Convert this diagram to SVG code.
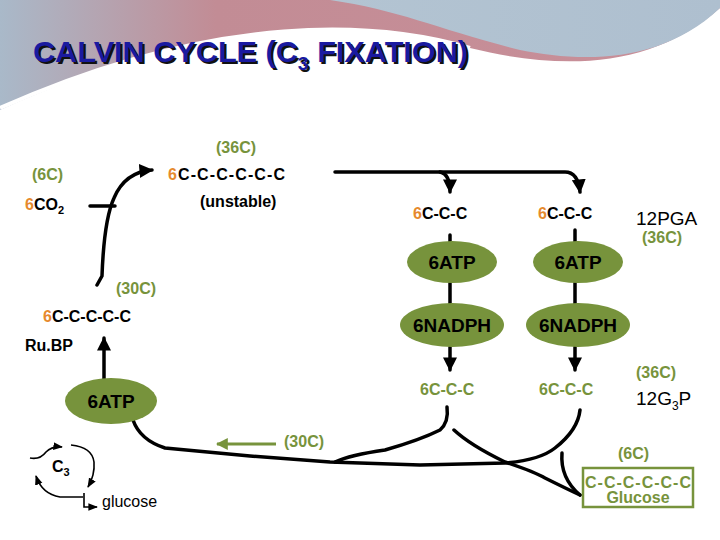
<svg xmlns="http://www.w3.org/2000/svg" width="720" height="540" viewBox="0 0 720 540">
<defs>
<linearGradient id="bg1" x1="0" y1="0" x2="1" y2="0"><stop offset="0" stop-color="#a9b9c9"/><stop offset="0.3" stop-color="#c28c95"/><stop offset="1" stop-color="#c98f99"/></linearGradient>
<linearGradient id="bg2" x1="0" y1="0" x2="1" y2="0"><stop offset="0" stop-color="#b3c4d2"/><stop offset="1" stop-color="#aebfcf"/></linearGradient>
<marker id="ah" viewBox="0 0 10 10" refX="9" refY="5" markerWidth="4" markerHeight="4" orient="auto"><path d="M0,0 L10,5 L0,10 z" fill="#000"/></marker>
<marker id="ahs" viewBox="0 0 10 10" refX="9" refY="5" markerWidth="6" markerHeight="6" orient="auto"><path d="M0,1 L10,5 L0,9 z" fill="#000"/></marker>
<marker id="ahg" viewBox="0 0 10 10" refX="9" refY="5" markerWidth="4" markerHeight="4" orient="auto"><path d="M0,0 L10,5 L0,10 z" fill="#77933C"/></marker>
<style>
text{font-family:"Liberation Sans",Arial,sans-serif;font-weight:bold}
.k{fill:#000;font-size:16px}
.g{fill:#77933C;font-size:16px}
.o{fill:#E68A2E}
.big{font-size:19px}
.nb{font-weight:normal}
.ov{fill:#77933C}
.ln{fill:none;stroke:#000;stroke-width:3.5;stroke-linecap:round;stroke-linejoin:round}
.th{fill:none;stroke:#000;stroke-width:1.6}
</style>
</defs>
<rect width="720" height="540" fill="#fff"/>
<path d="M0,0 H720 V8 C650,70 560,70 470,48 C380,20 220,10 0,110 Z" fill="url(#bg1)"/>
<path d="M330,0 H720 V8 C660,65 580,62 520,50 C440,30 400,10 330,0 Z" fill="url(#bg2)"/>
<path d="M0,108 C220,10 380,22 470,48" fill="none" stroke="#fff" stroke-width="4"/>
<g id="title">
<text x="33" y="62" font-size="30" fill="#111" transform="translate(2,2)" textLength="435" lengthAdjust="spacingAndGlyphs">CALVIN CYCLE (C<tspan font-size="19" dy="8">3</tspan><tspan dy="-8"> FIXATION)</tspan></text>
<text x="33" y="62" font-size="30" fill="#1a1aa0" textLength="435" lengthAdjust="spacingAndGlyphs">CALVIN CYCLE (C<tspan font-size="19" dy="8">3</tspan><tspan dy="-8"> FIXATION)</tspan></text>
</g>
<g id="connectors">
<path class="ln" d="M90,206 H115"/>
<path class="ln" d="M97,285 L102,276 Q104,220 114,198 Q125,172 152,170" marker-end="url(#ah)"/>
<path class="ln" d="M335,172 H565 Q578,172 580,192" marker-end="url(#ah)"/>
<path class="ln" d="M440,172 Q450,174 450,192" marker-end="url(#ah)"/>
<path class="ln" d="M450,235 V305 M450,347 V370" marker-end="url(#ah)"/>
<path class="ln" d="M575,230 V305 M575,347 V370" marker-end="url(#ah)"/>
<path class="ln" d="M104,380 V338" marker-end="url(#ah)"/>
<path class="ln" d="M104,380 V384"/>
<path class="ln" d="M133,420 Q140,440 165,448 L250,456 L330,462 L420,465 L505,463 Q540,460 555,448 Q578,430 580,410"/>
<path class="ln" d="M447,407 Q449,422 440,430 Q420,440 385,450 Q350,455 335,462"/>
<path class="ln" d="M454,430 Q470,445 505,462 Q535,472 545,478 Q565,488 580,495"/>
<path class="ln" d="M562,453 Q560,478 580,495"/>
<path d="M276,444 H217" stroke="#77933C" stroke-width="3" marker-end="url(#ahg)"/>
<path class="th" d="M30,458 Q40,460 46,452 Q52,446 62,447" marker-end="url(#ahs)"/>
<path class="th" d="M71,445 Q92,447 94,462 Q95,475 88,487" marker-end="url(#ahs)"/>
<path class="th" d="M83,497 L60,497 Q42,494 36,476" marker-end="url(#ahs)"/>
<path class="th" d="M84,493 V507 H97" marker-end="url(#ahs)"/>
</g>
<g id="n-36c"><text class="g" x="216" y="153">(36C)</text></g>
<g id="n-6c-top"><text class="k" x="168" y="180" textLength="117"><tspan class="o">6</tspan>C-C-C-C-C-C</text><text class="k" x="200" y="207">(unstable)</text></g>
<g id="n-co2"><text class="g" x="32" y="180">(6C)</text><text class="k" x="25" y="210"><tspan class="o">6</tspan>CO<tspan font-size="11" dy="4">2</tspan></text></g>
<g id="n-pga1"><text class="k" x="413" y="219"><tspan class="o">6</tspan>C-C-C</text></g>
<g id="n-pga2"><text class="k" x="538" y="219"><tspan class="o">6</tspan>C-C-C</text></g>
<g id="n-12pga"><text class="k big nb" x="636" y="225">12PGA</text><text class="g" x="642" y="243">(36C)</text></g>
<g id="n-atp1"><ellipse class="ov" cx="452" cy="262" rx="45" ry="21"/><text class="k big" x="452" y="269" text-anchor="middle">6ATP</text></g>
<g id="n-atp2"><ellipse class="ov" cx="578" cy="262" rx="45" ry="21"/><text class="k big" x="578" y="269" text-anchor="middle">6ATP</text></g>
<g id="n-nadph1"><ellipse class="ov" cx="452" cy="325" rx="52" ry="22"/><text class="k big" x="452" y="332" text-anchor="middle">6NADPH</text></g>
<g id="n-nadph2"><ellipse class="ov" cx="578" cy="325" rx="52" ry="22"/><text class="k big" x="578" y="332" text-anchor="middle">6NADPH</text></g>
<g id="n-g3p1"><text class="g" x="420" y="395">6C-C-C</text></g>
<g id="n-g3p2"><text class="g" x="539" y="395">6C-C-C</text></g>
<g id="n-12g3p"><text class="g" x="636" y="378">(36C)</text><text class="k big nb" x="636" y="405">12G<tspan font-size="12" dy="5">3</tspan><tspan dy="-5">P</tspan></text></g>
<g id="n-rubp"><text class="g" x="116" y="294">(30C)</text><text class="k" x="43" y="322"><tspan class="o">6</tspan>C-C-C-C-C</text><text class="k" x="25" y="351">Ru.BP</text></g>
<g id="n-atp3"><ellipse class="ov" cx="111" cy="401" rx="46" ry="23"/><text class="k big" x="111" y="408" text-anchor="middle">6ATP</text></g>
<g id="n-30c"><text class="g" x="284" y="447">(30C)</text></g>
<g id="n-glucose"><text class="g" x="618" y="459">(6C)</text><rect x="583" y="468" width="110" height="39" fill="none" stroke="#77933C" stroke-width="2.5"/><text class="g" x="638" y="488" text-anchor="middle" textLength="106">C-C-C-C-C-C</text><text class="g" x="638" y="503" text-anchor="middle">Glucose</text></g>
<g id="n-c3"><text class="k" x="52" y="472">C<tspan font-size="11" dy="4">3</tspan></text><text class="k nb" x="102" y="507" font-size="15">glucose</text></g>
</svg>
